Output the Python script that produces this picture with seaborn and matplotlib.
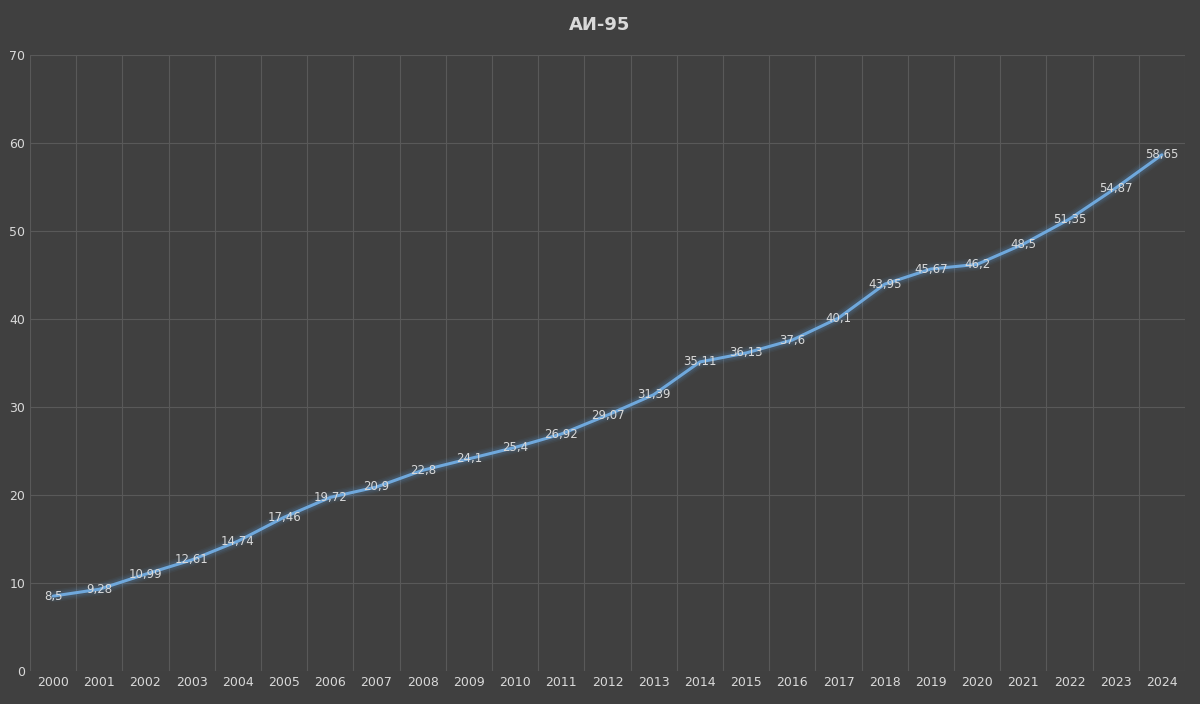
import matplotlib
matplotlib.use("Agg")
import matplotlib.pyplot as plt
import seaborn as sns
import numpy as np
import pandas as pd

years = [str(y) for y in range(2000, 2025)]
prices = [8.5, 9.28, 10.99, 12.61, 14.74, 17.46, 19.72, 20.9, 22.8, 24.1, 25.4, 26.92,
          29.07, 31.39, 35.11, 36.13, 37.6, 40.1, 43.95, 45.67, 46.2, 48.5, 51.35, 54.87, 58.65]
title = "АИ-95"

df = pd.DataFrame({"x": np.arange(len(years)), "y": prices})
bg = "#404040"
sns.set_style("dark")
plt.rcParams['font.family'] = ['DejaVu Sans']
fig = plt.figure(figsize=(12, 7.04), dpi=100, facecolor=bg)
ax = fig.add_axes([0.025, 0.047, 0.9625, 0.875], facecolor=bg)

for lw, a in [(9, 0.06), (7, 0.08), (5, 0.12)]:
    sns.lineplot(data=df, x="x", y="y", ax=ax, color="#5b9bd5", lw=lw, alpha=a)
sns.lineplot(data=df, x="x", y="y", ax=ax, color="#6fa8dc", lw=2.2)

for i, v in enumerate(prices):
    ax.text(i, v, f"{v:g}".replace(".", ","), ha="center", va="center",
            color="#d9d9d9", fontsize=8.5)

ax.set_xlim(-0.5, len(years) - 0.5)
ax.set_ylim(0, 70)
ax.set_yticks(range(0, 71, 10))
ax.set_xticks(range(len(years)))
ax.set_xticklabels(years)
ax.set_xticks(np.arange(-0.5, len(years), 1), minor=True)
ax.grid(False)
ax.grid(axis="y", which="major", color="#595959", lw=0.8)
ax.grid(axis="x", which="minor", color="#595959", lw=0.8)
ax.tick_params(colors="#d9d9d9", labelsize=9, length=0, which="both")
ax.set_xlabel("")
ax.set_ylabel("")
for s in ax.spines.values():
    s.set_visible(False)
fig.text(0.5, 0.965, title, ha="center", va="center", color="#d9d9d9",
         fontsize=13, fontweight="bold")
fig.savefig("out.png", dpi=100, facecolor=bg)
